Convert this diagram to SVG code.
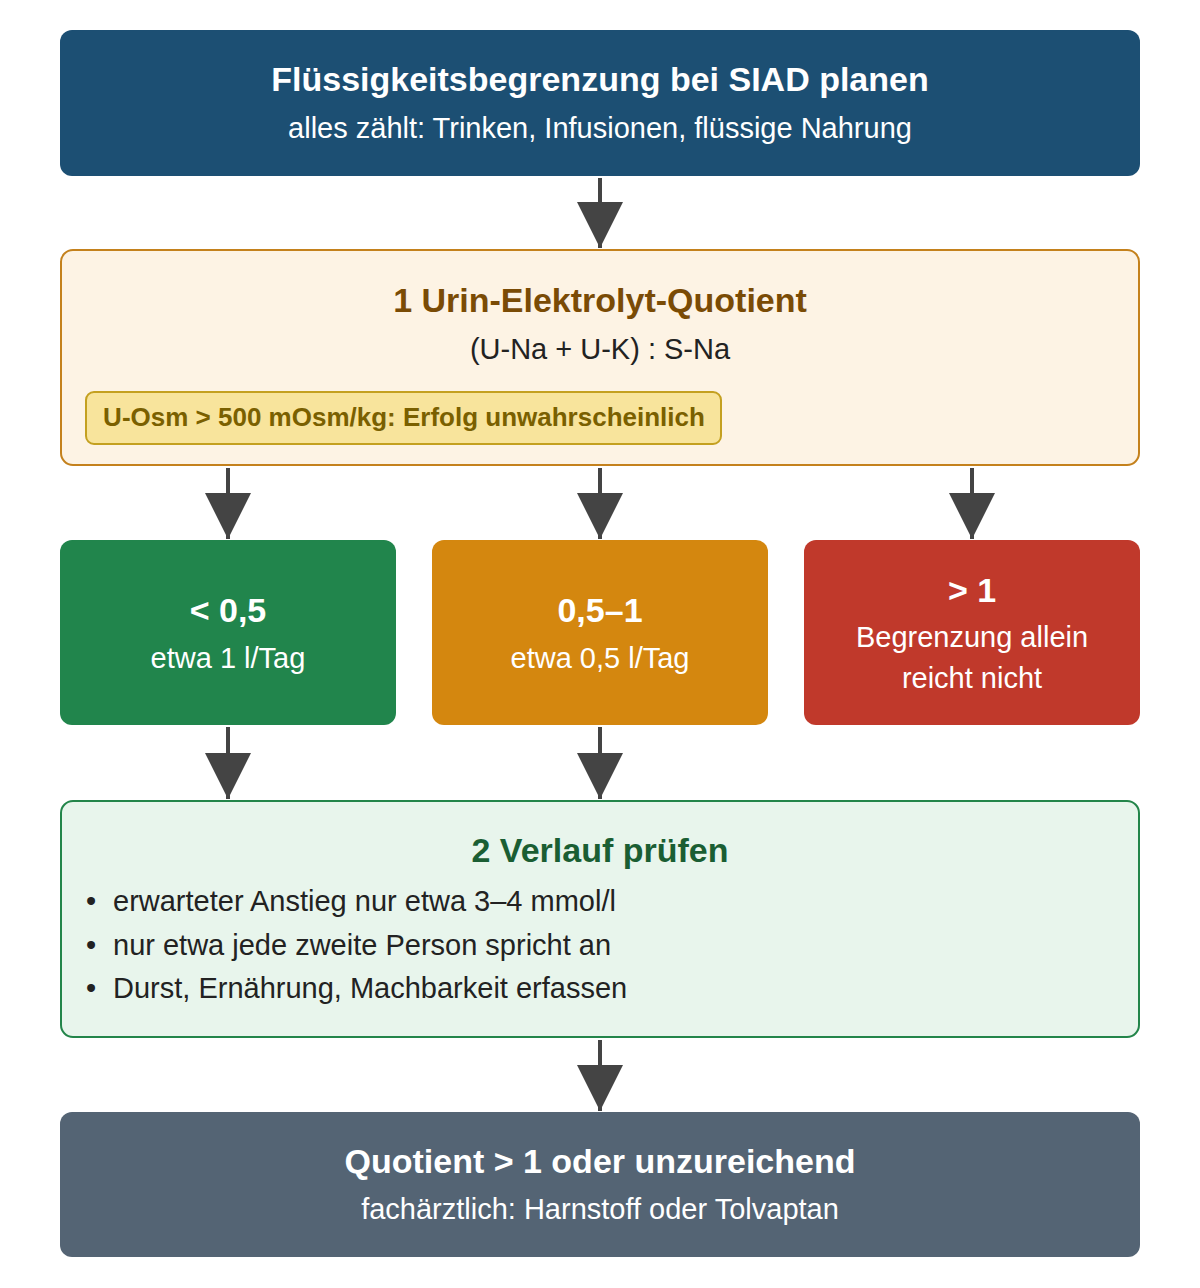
<svg xmlns="http://www.w3.org/2000/svg" width="1200" height="1288" viewBox="0 0 1200 1288">
<style>
text{font-family:"Liberation Sans",Arial,Helvetica,sans-serif;text-anchor:middle}
.t{font-weight:bold;font-size:34px}
.s{font-size:29px}
.w{fill:#ffffff}
.conn{stroke:#444444;stroke-width:4;fill:none}
.bul{font-size:29px;fill:#222222;text-anchor:start}
</style>
<defs>
<marker id="ah" markerUnits="userSpaceOnUse" markerWidth="48" markerHeight="46" refX="48" refY="24" orient="auto" viewBox="0 0 48 48">
<path d="M0,0 L48,24 L0,48 Z" fill="#444444"/>
</marker>
</defs>
<rect width="1200" height="1288" fill="#ffffff"/>
<g id="connectors">
<line class="conn" x1="600" y1="178" x2="600" y2="248" marker-end="url(#ah)"/>
<line class="conn" x1="228" y1="468" x2="228" y2="539" marker-end="url(#ah)"/>
<line class="conn" x1="600" y1="468" x2="600" y2="539" marker-end="url(#ah)"/>
<line class="conn" x1="972" y1="468" x2="972" y2="539" marker-end="url(#ah)"/>
<line class="conn" x1="228" y1="727" x2="228" y2="799" marker-end="url(#ah)"/>
<line class="conn" x1="600" y1="727" x2="600" y2="799" marker-end="url(#ah)"/>
<line class="conn" x1="600" y1="1040" x2="600" y2="1111" marker-end="url(#ah)"/>
</g>
<g id="n-start">
<rect x="60" y="30" width="1080" height="146" rx="12" fill="#1c4f73"/>
<text class="t w" x="600" y="91">Flüssigkeitsbegrenzung bei SIAD planen</text>
<text class="s w" x="600" y="138">alles zählt: Trinken, Infusionen, flüssige Nahrung</text>
</g>
<g id="n-quotient">
<rect x="61" y="250" width="1078" height="215" rx="12" fill="#fdf3e4" stroke="#c4811c" stroke-width="2"/>
<text class="t" x="600" y="312" fill="#7a4b05">1 Urin-Elektrolyt-Quotient</text>
<text class="s" x="600" y="359" fill="#222222">(U-Na + U-K) : S-Na</text>
<rect x="86" y="392" width="635" height="52" rx="8" fill="#f8e49c" stroke="#c4a020" stroke-width="2"/>
<text x="404" y="426" font-size="26" font-weight="bold" fill="#7a6000">U-Osm &gt; 500 mOsm/kg: Erfolg unwahrscheinlich</text>
</g>
<g id="n-low">
<rect x="60" y="540" width="336" height="185" rx="12" fill="#21854c"/>
<text class="t w" x="228" y="622">&lt; 0,5</text>
<text class="s w" x="228" y="668">etwa 1 l/Tag</text>
</g>
<g id="n-mid">
<rect x="432" y="540" width="336" height="185" rx="12" fill="#d4870f"/>
<text class="t w" x="600" y="622">0,5–1</text>
<text class="s w" x="600" y="668">etwa 0,5 l/Tag</text>
</g>
<g id="n-high">
<rect x="804" y="540" width="336" height="185" rx="12" fill="#c0392b"/>
<text class="t w" x="972" y="602">&gt; 1</text>
<text class="s w" x="972" y="647">Begrenzung allein</text>
<text class="s w" x="972" y="688">reicht nicht</text>
</g>
<g id="n-verlauf">
<rect x="61" y="801" width="1078" height="236" rx="12" fill="#e8f5ec" stroke="#23854a" stroke-width="2"/>
<text class="t" x="600" y="862" fill="#1a5e33">2 Verlauf prüfen</text>
<text class="bul" x="86" y="911">•</text><text class="bul" x="113" y="911">erwarteter Anstieg nur etwa 3–4 mmol/l</text>
<text class="bul" x="86" y="955">•</text><text class="bul" x="113" y="955">nur etwa jede zweite Person spricht an</text>
<text class="bul" x="86" y="998">•</text><text class="bul" x="113" y="998">Durst, Ernährung, Machbarkeit erfassen</text>
</g>
<g id="n-end">
<rect x="60" y="1112" width="1080" height="145" rx="12" fill="#546474"/>
<text class="t w" x="600" y="1173">Quotient &gt; 1 oder unzureichend</text>
<text class="s w" x="600" y="1219">fachärztlich: Harnstoff oder Tolvaptan</text>
</g>
</svg>
